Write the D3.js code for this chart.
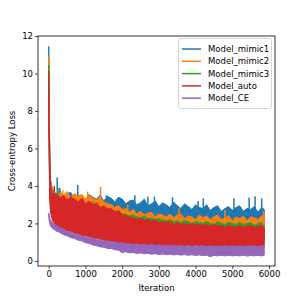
<!DOCTYPE html>
<html>
<head>
<meta charset="utf-8">
<script src="https://cdn.jsdelivr.net/npm/d3@7"></script>
<style>
  body { margin: 0; background: #fff; }
  text { font-family: "DejaVu Sans", sans-serif; fill: #000; }
</style>
</head>
<body>
<div id="chart"></div>
<script>
var iterations = [0, 25, 50, 100,
  200, 300, 400, 500, 600, 700, 800, 900, 1000, 1100,
  1200, 1300, 1400, 1500, 1600, 1700, 1800, 1900, 2000, 2100,
  2200, 2300, 2400, 2500, 2600, 2700, 2800, 2900, 3000, 3100,
  3200, 3300, 3400, 3500, 3600, 3700, 3800, 3900, 4000, 4100,
  4200, 4300, 4400, 4500, 4600, 4700, 4800, 4900, 5000, 5100,
  5200, 5300, 5400, 5500, 5600, 5700, 5800, 5870];

var names = ['Model_mimic1', 'Model_mimic2', 'Model_mimic3', 'Model_auto', 'Model_CE'];
var colors = ['#1f77b4', '#ff7f0e', '#2ca02c', '#d62728', '#9467bd'];

// upper / lower envelope of each noisy loss curve
var mimic1High = [11.45, 6.2, 4.3, 3.85,
  3.55, 3.75, 3.35, 3.6, 3.65, 3.3, 3.5, 3.45, 3.25, 3.55,
  3.4, 3.3, 3.5, 3.2, 3.45, 3.35, 3.15, 3.4, 3.3, 3.05,
  3.2, 3.25, 3.0, 3.1, 3.3, 2.95, 3.05, 3.2, 2.9, 3.1,
  3.0, 2.85, 3.15, 2.95, 2.8, 3.05, 2.9, 2.75, 3.0, 2.85,
  2.8, 3.0, 2.7, 2.85, 2.95, 2.65, 2.8, 2.9, 2.7, 2.85,
  2.95, 2.65, 2.8, 2.75, 2.9, 2.6, 2.85, 2.75];
var mimic1Low = [8.5, 4.0, 2.8, 2.4,
  2.2, 2.1, 2.0, 1.95, 1.9, 1.85, 1.8, 1.75, 1.7, 1.65,
  1.6, 1.58, 1.55, 1.52, 1.5, 1.47, 1.45, 1.42, 1.4, 1.38,
  1.36, 1.35, 1.34, 1.33, 1.32, 1.31, 1.3, 1.29, 1.28, 1.27,
  1.26, 1.25, 1.25, 1.24, 1.24, 1.23, 1.23, 1.22, 1.22, 1.21,
  1.21, 1.2, 1.2, 1.2, 1.19, 1.19, 1.19, 1.18, 1.18, 1.18,
  1.17, 1.17, 1.17, 1.16, 1.16, 1.16, 1.16, 1.15];

var mimic2High = [10.95, 6.0, 4.2, 3.8,
  3.45, 3.65, 3.5, 3.7, 3.35, 3.6, 3.45, 3.55, 3.3, 3.5,
  3.35, 3.25, 3.4, 3.15, 3.05, 3.0, 2.85, 2.95, 2.75, 2.8,
  2.6, 2.75, 2.5, 2.65, 2.45, 2.55, 2.6, 2.35, 2.5, 2.45,
  2.35, 2.5, 2.3, 2.45, 2.5, 2.25, 2.4, 2.35, 2.2, 2.45,
  2.3, 2.4, 2.2, 2.35, 2.45, 2.2, 2.3, 2.4, 2.15, 2.35,
  2.25, 2.4, 2.15, 2.35, 2.3, 2.2, 2.4, 2.45];
var mimic2Low = [8.2, 3.9, 2.7, 2.3,
  2.1, 2.0, 1.95, 1.9, 1.85, 1.8, 1.75, 1.7, 1.65, 1.6,
  1.56, 1.52, 1.5, 1.47, 1.44, 1.42, 1.4, 1.37, 1.35, 1.33,
  1.31, 1.3, 1.29, 1.28, 1.27, 1.26, 1.25, 1.24, 1.23, 1.22,
  1.21, 1.2, 1.2, 1.19, 1.19, 1.18, 1.18, 1.17, 1.17, 1.16,
  1.16, 1.15, 1.15, 1.15, 1.14, 1.14, 1.14, 1.13, 1.13, 1.13,
  1.12, 1.12, 1.12, 1.11, 1.11, 1.11, 1.11, 1.1];

var mimic3High = [10.45, 5.8, 4.1, 3.6,
  3.35, 3.45, 3.25, 3.3, 3.2, 3.25, 3.05, 3.15, 3.0, 3.05,
  2.95, 3.0, 2.85, 2.8, 2.8, 2.7, 2.65, 2.6, 2.5, 2.5,
  2.4, 2.45, 2.35, 2.3, 2.4, 2.25, 2.3, 2.2, 2.25, 2.2,
  2.15, 2.2, 2.1, 2.15, 2.05, 2.15, 2.1, 2.0, 2.1, 2.05,
  2.0, 2.1, 2.0, 1.95, 2.1, 2.0, 1.95, 2.05, 2.0, 1.95,
  2.05, 1.95, 2.0, 2.05, 1.9, 2.0, 2.05, 1.8];
var mimic3Low = [8.0, 3.7, 2.65, 2.25,
  2.05, 1.95, 1.9, 1.85, 1.8, 1.74, 1.7, 1.65, 1.6, 1.55,
  1.5, 1.47, 1.44, 1.41, 1.38, 1.36, 1.34, 1.31, 1.29, 1.27,
  1.25, 1.24, 1.23, 1.22, 1.21, 1.2, 1.19, 1.18, 1.17, 1.16,
  1.15, 1.15, 1.14, 1.14, 1.13, 1.13, 1.12, 1.12, 1.11, 1.11,
  1.1, 1.1, 1.1, 1.09, 1.09, 1.09, 1.08, 1.08, 1.08, 1.07,
  1.07, 1.07, 1.06, 1.06, 1.06, 1.06, 1.05, 1.05];

var autoHigh = [10.1, 5.6, 4.0, 3.5,
  3.6, 3.35, 3.5, 3.25, 3.4, 3.3, 3.15, 3.35, 3.05, 3.2,
  3.0, 3.1, 2.85, 2.95, 2.75, 2.8, 2.6, 2.7, 2.45, 2.4,
  2.35, 2.3, 2.2, 2.3, 2.15, 2.25, 2.1, 2.2, 2.05, 2.1,
  2.05, 2.1, 1.95, 2.05, 1.95, 2.0, 1.9, 2.0, 1.9, 1.95,
  1.9, 1.95, 1.85, 1.95, 1.85, 1.9, 1.8, 1.9, 1.85, 1.8,
  1.9, 1.8, 1.85, 1.9, 1.8, 1.85, 1.9, 1.75];
var autoLow = [7.0, 3.3, 2.6, 2.15,
  1.9, 1.75, 1.72, 1.6, 1.58, 1.48, 1.46, 1.36, 1.35, 1.28,
  1.25, 1.18, 1.17, 1.1, 1.08, 1.02, 1.0, 0.95, 0.95, 0.9,
  0.9, 0.86, 0.88, 0.84, 0.86, 0.82, 0.84, 0.8, 0.83, 0.79,
  0.81, 0.77, 0.8, 0.76, 0.79, 0.75, 0.78, 0.74, 0.77, 0.74,
  0.76, 0.72, 0.75, 0.73, 0.75, 0.71, 0.74, 0.72, 0.74, 0.7,
  0.73, 0.71, 0.74, 0.7, 0.73, 0.71, 0.73, 0.72];

var ceHigh = [2.55, 2.3, 2.15, 2.05,
  1.9, 1.78, 1.7, 1.56, 1.54, 1.43, 1.42, 1.31, 1.3, 1.22,
  1.21, 1.13, 1.13, 1.06, 1.07, 1.0, 1.02, 0.95, 0.97, 0.91,
  0.92, 0.87, 0.9, 0.85, 0.88, 0.83, 0.87, 0.82, 0.86, 0.81,
  0.84, 0.8, 0.84, 0.79, 0.83, 0.78, 0.82, 0.77, 0.82, 0.78,
  0.81, 0.76, 0.81, 0.77, 0.8, 0.76, 0.81, 0.77, 0.8, 0.77,
  0.81, 0.76, 0.8, 0.78, 0.81, 0.77, 0.8, 0.82];
var ceLow = [2.3, 2.0, 1.85, 1.75,
  1.6, 1.52, 1.4, 1.34, 1.24, 1.2, 1.1, 1.07, 0.97, 0.93,
  0.85, 0.81, 0.75, 0.73, 0.67, 0.66, 0.6, 0.57, 0.44, 0.49,
  0.43, 0.45, 0.4, 0.43, 0.38, 0.41, 0.36, 0.39, 0.34, 0.37,
  0.33, 0.36, 0.32, 0.35, 0.31, 0.34, 0.3, 0.33, 0.29, 0.32,
  0.28, 0.31, 0.23, 0.3, 0.27, 0.3, 0.27, 0.3, 0.27, 0.29,
  0.27, 0.3, 0.26, 0.29, 0.27, 0.3, 0.27, 0.3];

// isolated tall spikes [iteration, loss]
var mimic1Spikes = [[230, 4.45], [300, 3.9], [790, 4.05], [1570, 3.5], [2345, 3.5], [2700, 3.43],
  [2880, 3.43], [3370, 3.39], [4070, 3.2], [4210, 3.34], [5045, 3.34], [5460, 3.39], [5620, 3.45], [5800, 3.34]];
var mimic2Spikes = [[380, 3.78], [1060, 3.7], [1410, 3.95], [2150, 3.0], [3550, 2.8], [4800, 2.7], [5850, 2.65]];
var mimic3Spikes = [[250, 3.9], [1200, 3.2]];
var autoSpikes = [[150, 4.0]];
var ceSpikes = [];

var xTicks = [0, 1000, 2000, 3000, 4000, 5000, 6000];
var yTicks = [0, 2, 4, 6, 8, 10, 12];

var series = [
  {hi: mimic1High, lo: mimic1Low, spikes: mimic1Spikes},
  {hi: mimic2High, lo: mimic2Low, spikes: mimic2Spikes},
  {hi: mimic3High, lo: mimic3Low, spikes: mimic3Spikes},
  {hi: autoHigh, lo: autoLow, spikes: autoSpikes},
  {hi: ceHigh, lo: ceLow, spikes: ceSpikes}
];

var width = 305, height = 305;
var padLeft = 38, padRight = 275, padTop = 36, padBottom = 266;

var svg = d3.select('#chart').append('svg')
  .attr('width', width)
  .attr('height', height);

var x = d3.scaleLinear().domain([-293.5, 6163.5]).range([padLeft, padRight]);
var y = d3.scaleLinear().domain([-0.27, 12.0]).range([padBottom, padTop]);

var plot = svg.append('g');

series.forEach(function(s, k) {
  var area = d3.area()
    .x(function(d, i) { return x(iterations[i]); })
    .y0(function(d, i) { return y(s.lo[i]); })
    .y1(function(d, i) { return y(s.hi[i]); });

  plot.append('path')
    .attr('d', area(s.hi))
    .attr('fill', colors[k])
    .attr('stroke', colors[k])
    .attr('stroke-width', 1);

  // spikes go from the band up to the peak
  plot.selectAll('.spike' + k)
    .data(s.spikes)
    .enter().append('line')
      .attr('x1', function(d) { return x(d[0]); })
      .attr('x2', function(d) { return x(d[0]); })
      .attr('y1', function(d) {
        var i = Math.min(d3.bisectLeft(iterations, d[0]), iterations.length - 1);
        return y(s.hi[i] - 0.3);
      })
      .attr('y2', function(d) { return y(d[1]); })
      .attr('stroke', colors[k])
      .attr('stroke-width', 1.5);
});

// Axes
var xAxis = svg.append('g')
  .attr('transform', 'translate(0,' + padBottom + ')')
  .call(d3.axisBottom(x).tickValues(xTicks).tickFormat(d3.format('d')).tickSize(3).tickPadding(2));
var yAxis = svg.append('g')
  .attr('transform', 'translate(' + padLeft + ',0)')
  .call(d3.axisLeft(y).tickValues(yTicks).tickFormat(d3.format('d')).tickSize(3).tickPadding(2));

[xAxis, yAxis].forEach(function(a) {
  a.select('.domain').remove();
  a.selectAll('line').attr('stroke', '#000').attr('stroke-width', 0.7);
  a.selectAll('text').style('font-size', '8.5px').style('font-family', '"DejaVu Sans", sans-serif');
});

// frame
svg.append('rect')
  .attr('x', padLeft).attr('y', padTop)
  .attr('width', padRight - padLeft).attr('height', padBottom - padTop)
  .attr('fill', 'none').attr('stroke', '#000').attr('stroke-width', 0.8);

svg.append('text')
  .attr('x', (padLeft + padRight) / 2).attr('y', 291)
  .style('text-anchor', 'middle').style('font-size', '8.5px')
  .text('Iteration');

svg.append('text')
  .attr('transform', 'translate(15,' + (padTop + padBottom) / 2 + ')rotate(-90)')
  .style('text-anchor', 'middle').style('font-size', '8.5px')
  .text('Cross-entropy Loss');

// Legend
var legend = svg.append('g');
legend.append('rect')
  .attr('x', 178.5).attr('y', 38.5)
  .attr('width', 93).attr('height', 70)
  .attr('rx', 2)
  .attr('fill', '#fff').attr('fill-opacity', 0.8)
  .attr('stroke', '#ccc').attr('stroke-width', 0.8);

var item = legend.selectAll('.item')
  .data(names)
  .enter().append('g')
    .attr('transform', function(d, i) { return 'translate(0,' + (49 + i * 12.3) + ')'; });
item.append('line')
  .attr('x1', 182).attr('x2', 201)
  .attr('stroke', function(d, i) { return colors[i]; })
  .attr('stroke-width', 1.5);
item.append('text')
  .attr('x', 208).attr('y', 3)
  .style('font-size', '8.5px')
  .text(function(d) { return d; });
</script>
</body>
</html>
